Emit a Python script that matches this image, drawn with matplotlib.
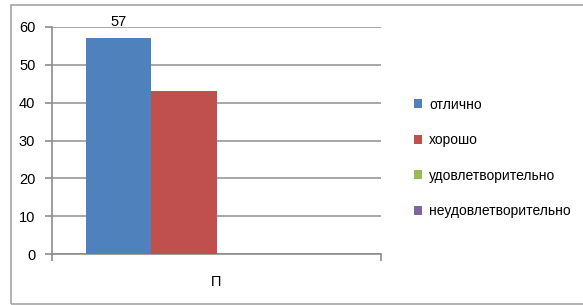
#!/usr/bin/env python3
"""Столбчатая диаграмма оценок (П)"""

import matplotlib.pyplot as plt
import matplotlib.patches as mpatches

plt.rcParams['font.family'] = ['Liberation Sans', 'DejaVu Sans']
plt.rcParams['font.size'] = 10

# Данные
category = 'П'
grades = ['отлично', 'хорошо', 'удовлетворительно', 'неудовлетворительно']
values = [57, 43, 0, 0]
colors = ['#4F81BD', '#C0504D', '#9BBB59', '#8064A2']
yticks = [0, 10, 20, 30, 40, 50, 60]

W, H = 583, 305
fig = plt.figure(figsize=(W / 100, H / 100), dpi=100)
ax = fig.add_axes([52 / W, 51 / H, (381 - 52) / W, (254 - 27) / H])

# Рамка вокруг диаграммы
frame = mpatches.Rectangle((11 / W, 1 / H), 1.0, 299 / H, transform=fig.transFigure,
                           fill=False, edgecolor='#a6a6a6', linewidth=1.2)
fig.patches.append(frame)

width = 0.1976
offsets = [-1.5, -0.5, 0.5, 1.5]
containers = []
for val, col, off, lab in zip(values, colors, offsets, grades):
    c = ax.bar(off * width, val, width, color=col, label=lab, zorder=3)
    containers.append(c)

# Подпись только у первого ряда
ax.bar_label(containers[0], padding=7, fontsize=10.5)

ax.set_xlim(-0.5, 0.5)
ax.set_ylim(0, 60)
ax.set_yticks(yticks)
ax.set_xticks([0])
ax.set_xticklabels([category])
ax.set_xticks([-0.5, 0.5], minor=True)
ax.tick_params(axis='x', which='major', length=0, pad=15, labelsize=10.5)
ax.tick_params(axis='x', which='minor', length=5, color='#8c8c8c', width=1.2)
ax.tick_params(axis='y', length=5, color='#8c8c8c', width=1.2, pad=7, labelsize=10.5)
ax.yaxis.grid(True, color='#a0a0a0', linewidth=1.3, zorder=0)
ax.set_axisbelow(True)

for s in ['top', 'right']:
    ax.spines[s].set_visible(False)
for s in ['left', 'bottom']:
    ax.spines[s].set_color('#8c8c8c')
    ax.spines[s].set_linewidth(1.2)

fig.legend(loc='center left', bbox_to_anchor=(407 / W, (H - 158) / H),
           frameon=False, borderpad=0, handlelength=0.6, handleheight=0.6,
           handletextpad=0.5, labelspacing=1.55, fontsize=10)

fig.savefig('out.png', dpi=100)
